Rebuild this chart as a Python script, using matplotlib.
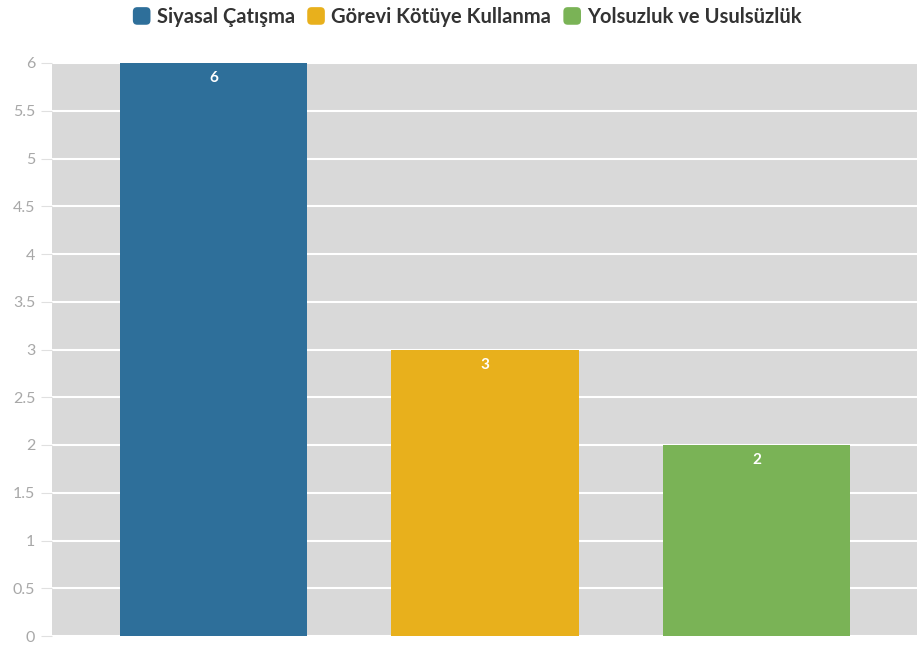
import matplotlib
matplotlib.use("Agg")
import matplotlib.pyplot as plt
from matplotlib.patches import FancyBboxPatch
from matplotlib.legend_handler import HandlerPatch

categories = ["Siyasal Çatışma", "Görevi Kötüye Kullanma", "Yolsuzluk ve Usulsüzlük"]
values = [6, 3, 2]
colors = ["#2e6f9a", "#e8b01c", "#7ab356"]
yticks = [0, 0.5, 1, 1.5, 2, 2.5, 3, 3.5, 4, 4.5, 5, 5.5, 6]
ytick_labels = ["0", "0.5", "1", "1.5", "2", "2.5", "3", "3.5", "4", "4.5", "5", "5.5", "6"]

plt.rcParams['font.family'] = ['Lato', 'DejaVu Sans']

fig = plt.figure(figsize=(9.17, 6.45), dpi=100)
ax = fig.add_axes([52/917, 9/645, 1 - 52/917, (636-63)/645])
ax.set_facecolor("#d9d9d9")

x = list(range(len(categories)))
bars = ax.bar(x, values, width=0.69, color=colors, zorder=3)
for xi, v in zip(x, values):
    ax.annotate(str(v), (xi, v), xytext=(0, -11), textcoords="offset points",
                ha="center", va="center", color="white", fontsize=11, fontweight="bold", zorder=4)

ax.set_xlim(-0.595, 2.59)
ax.set_ylim(0, 6)
ax.set_yticks(yticks)
ax.set_yticklabels(ytick_labels)
ax.yaxis.grid(True, color="white", linewidth=1.5, zorder=1)
ax.set_axisbelow(True)
ax.set_xticks([])
for s in ax.spines.values():
    s.set_visible(False)
ax.tick_params(axis="y", length=8, color="#e0e0e0", labelcolor="#a8a8a8", labelsize=11.5, pad=4)

class RoundHandler(HandlerPatch):
    def create_artists(self, legend, orig_handle, xdescent, ydescent, width, height, fontsize, trans):
        s = height * 1.25
        p = FancyBboxPatch((width - s - xdescent, -ydescent + (height - s) / 2), s, s,
                           boxstyle="round,pad=0,rounding_size=%f" % (s * 0.25),
                           facecolor=orig_handle.get_facecolor(), edgecolor="none", transform=trans)
        return [p]

handles = [plt.Rectangle((0, 0), 1, 1, facecolor=c) for c in colors]
leg = fig.legend(handles, categories, loc="center", bbox_to_anchor=(467/917, 1 - 17/645), ncol=3,
                 frameon=False, handler_map={plt.Rectangle: RoundHandler()},
                 handlelength=0.9, handletextpad=0.3, columnspacing=0.6,
                 prop={"weight": "bold", "size": 14.5})
for t in leg.get_texts():
    t.set_color("#333333")

fig.savefig("out.png", dpi=100)
